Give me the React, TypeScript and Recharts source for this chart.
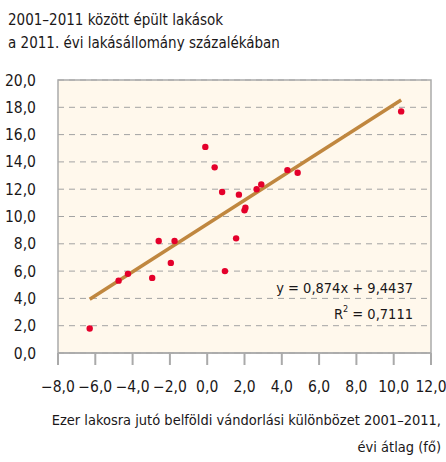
import { CartesianGrid, ReferenceArea, Scatter, ScatterChart, XAxis, YAxis } from "recharts";

const xTicks = [-8, -6, -4, -2, 0, 2, 4, 6, 8, 10, 12];
const yTicks = [0, 2, 4, 6, 8, 10, 12, 14, 16, 18, 20];

// belföldi vándorlási különbözet (x), épült lakások aránya (y)
const migration = [-6.3, -4.75, -4.25, -2.95, -2.6, -1.95, -1.75, -0.1, 0.4, 0.8, 0.95, 1.55, 1.7, 2.0, 2.05, 2.65, 2.9, 4.3, 4.85, 10.4];
const dwellings = [1.8, 5.3, 5.8, 5.5, 8.2, 6.6, 8.2, 15.1, 13.6, 11.8, 6.0, 8.4, 11.6, 10.45, 10.65, 12.0, 12.35, 13.4, 13.2, 17.7];

// y = 0,874x + 9,4437 két végpontja
const trendX = [-6.3, 10.4];
const trendY = [3.94, 18.53];

const points = migration.map((x, i) => ({ x, y: dwellings[i] }));
const trend = trendX.map((x, i) => ({ x, y: trendY[i] }));

const FONT = '"DejaVu Sans Condensed", "DejaVu Sans", sans-serif';
const INK = "#1a1718";
const txt = { fontFamily: FONT, fontStretch: "condensed" as const };

const fmt = (v: number) => v.toFixed(1).replace(".", ",").replace("-", "\u2212");

const Dot = (props: any) => <circle cx={props.cx} cy={props.cy} r={3.2} fill="#e4002b" />;

export default function App() {
  return (
    <div style={{ position: "absolute", left: 0, top: 0, width: 446, height: 462, background: "#fff", ...txt, color: INK }}>
      <div style={{ position: "absolute", left: 8, top: 9, fontSize: 15, lineHeight: "23px", whiteSpace: "nowrap" }}>
        2001–2011 között épült lakások
        <br />
        a 2011. évi lakásállomány százalékában
      </div>
      <ScatterChart width={446} height={462} margin={{ top: 80, right: 15, bottom: 0, left: 0 }}>
        <CartesianGrid fill="#fff8ec" vertical={false} stroke="#a3a3a3" strokeDasharray="6 5" />
        <ReferenceArea x1={-8} x2={12} y1={0} y2={20} fillOpacity={0} stroke="#aaaaaa" strokeWidth={1.5} />
        <XAxis
          type="number"
          dataKey="x"
          domain={[-8, 12]}
          ticks={xTicks}
          tickFormatter={fmt}
          height={109}
          tickSize={12}
          tickMargin={16}
          axisLine={{ stroke: "#aaaaaa", strokeWidth: 1.5 }}
          tickLine={{ stroke: "#aaaaaa", strokeWidth: 2 }}
          tick={{ fill: INK, fontSize: 15.5, style: txt }}
          interval={0}
        />
        <YAxis
          type="number"
          dataKey="y"
          domain={[0, 20]}
          ticks={yTicks}
          tickFormatter={fmt}
          width={58}
          tickSize={0}
          tickMargin={22}
          axisLine={false}
          tickLine={false}
          tick={{ fill: INK, fontSize: 15.5, style: txt }}
          interval={0}
        />
        <Scatter data={trend} line={{ stroke: "#c0873f", strokeWidth: 3.5 }} shape={() => null} isAnimationActive={false} />
        <Scatter data={points} shape={Dot} isAnimationActive={false} />
      </ScatterChart>
      <div style={{ position: "absolute", right: 33, top: 275, fontSize: 14.5, textAlign: "right", lineHeight: "26px", whiteSpace: "nowrap" }}>
        y = 0,874x + 9,4437
        <br />
        R<sup style={{ fontSize: 9, verticalAlign: "7px", lineHeight: 0 }}>2</sup> = 0,7111
      </div>
      <div style={{ position: "absolute", right: 5, top: 407, fontSize: 14.5, textAlign: "right", lineHeight: "27px", whiteSpace: "nowrap" }}>
        Ezer lakosra jutó belföldi vándorlási különbözet 2001–2011,
        <br />
        évi átlag (fő)
      </div>
    </div>
  );
}
